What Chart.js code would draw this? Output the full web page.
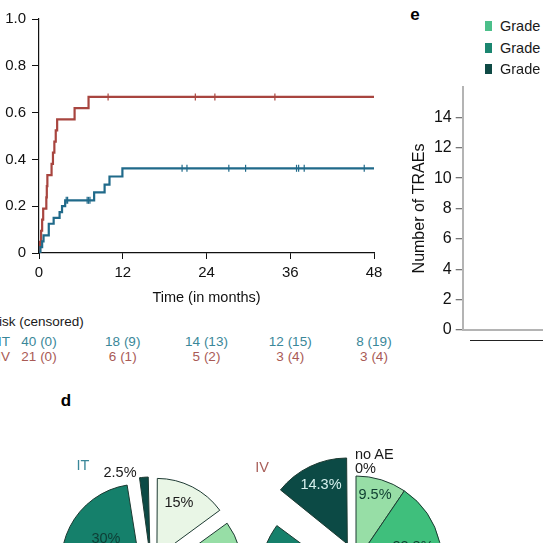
<!DOCTYPE html>
<html>
<head>
<meta charset="utf-8">
<script src="https://cdn.jsdelivr.net/npm/chart.js@4.4.0/dist/chart.umd.min.js"></script>
<style>
html, body { margin: 0; padding: 0; background: #fff; }
body { width: 543px; height: 543px; overflow: hidden; position: relative;
       font-family: "Liberation Sans", Arial, sans-serif; color: #1a1a1a; }
canvas { position: absolute; }
.t { position: absolute; white-space: nowrap; line-height: 1; }
.c { transform: translate(-50%, -50%); }
.m { transform: translateY(-50%); }
.r { transform: translate(-100%, -50%); }
.b { font-weight: bold; font-size: 17px; color: #000; }
.p { font-size: 14.5px; }
</style>
</head>
<body>
<canvas id="km" width="392" height="310" style="left:0;top:0"></canvas>
<canvas id="trae" width="150" height="290" style="left:404px;top:70px"></canvas>
<canvas id="pieIT" width="240" height="240" style="left:31px;top:448px"></canvas>
<canvas id="pieIV" width="260" height="260" style="left:226px;top:432px"></canvas>

<div class="t m" style="left:-22px;top:322px;font-size:13.5px">At risk (censored)</div>
<div class="t r" style="left:10px;top:342px;font-size:13.5px;color:#3a8799">IT</div>
<div class="t r" style="left:10px;top:357px;font-size:13.5px;color:#a95a55">IV</div>
<div id="riskRows"></div>

<div class="t c b" style="left:66px;top:400px">d</div>
<div class="t c b" style="left:415px;top:14px">e</div>

<div id="legend"></div>
<div style="position:absolute;left:470px;top:340px;width:80px;height:1.3px;background:#222"></div>

<div class="t c p" style="left:83px;top:465px;color:#3a8799">IT</div>
<div class="t c p" style="left:120px;top:472px">2.5%</div>
<div class="t c p" style="left:179px;top:502px">15%</div>
<div class="t c p" style="left:106px;top:538px;color:#0e3d35">30%</div>

<div class="t c p" style="left:262px;top:467px;color:#a9605b">IV</div>
<div class="t m p" style="left:355px;top:454px">no AE</div>
<div class="t m p" style="left:355px;top:468px">0%</div>
<div class="t c p" style="left:321px;top:484px;color:#d6f1ee">14.3%</div>
<div class="t c p" style="left:375px;top:494px;color:#0e3d30">9.5%</div>
<div class="t c p" style="left:413px;top:546px;color:#0e3d30">23.8%</div>

<script>
// cumulative incidence (step function), time in months
var itTime = [0, 0.2, 0.45, 0.65, 1.4, 2.1, 2.95, 3.3, 3.75, 7.9, 9.4, 10.1, 11.95, 48];
var itCum  = [0, 0.025, 0.05, 0.075, 0.125, 0.15, 0.175, 0.2, 0.225, 0.259, 0.292, 0.327, 0.362, 0.362];
var ivTime = [0, 0.15, 0.3, 0.45, 0.6, 1.05, 1.12, 1.2, 1.8, 2.0, 2.2, 2.4, 2.6, 5.1, 7.1, 48];
var ivCum  = [0, 0.048, 0.095, 0.143, 0.19, 0.238, 0.286, 0.333, 0.381, 0.429, 0.476, 0.524, 0.571, 0.619, 0.667, 0.667];
var itCensor = [3.9, 4.1, 6.9, 7.1, 7.3, 20.5, 21.2, 27.2, 29.6, 36.9, 37.2, 38.0, 46.6];
var ivCensor = [9.9, 22.4, 25.2, 33.8];

// number at risk table
var riskTimes = [0, 12, 24, 36, 48];
var itAtRisk = [40, 18, 14, 12, 8];
var itCensored = [0, 9, 13, 15, 19];
var ivAtRisk = [21, 6, 5, 3, 3];
var ivCensored = [0, 1, 2, 4, 4];

// pies (d)
var grades = ['no AE', 'Grade 1', 'Grade 2', 'Grade 3', 'Grade 4'];
var itPct = [15, 22.5, 30, 30, 2.5];
var ivPct = [0, 9.5, 23.8, 52.4, 14.3];
var gradeColors = ['#e9f6e6', '#97dea6', '#3fbf7c', '#15806b', '#0c4a45'];

// TRAE panel (e)
var traeGrades = ['Grade 2', 'Grade 3', 'Grade 4'];
var traeColors = ['#4cbf8a', '#1b8670', '#0f4a45'];

var FONT = '"Liberation Sans", Arial, sans-serif';
var itCol = '#206a8a';
var ivCol = '#a8453f';

function levelAt(ts, cs, t) {
  var v = 0;
  for (var i = 0; i < ts.length; i++) { if (ts[i] <= t) v = cs[i]; }
  return v;
}
function pts(ts, cs) { return ts.map(function (t, i) { return {x: t, y: cs[i]}; }); }
function marks(cens, ts, cs) { return cens.map(function (t) { return {x: t, y: levelAt(ts, cs, t)}; }); }

// KM chart
var km = new Chart(document.getElementById('km'), {
  type: 'line',
  data: {
    datasets: [
      {data: pts(itTime, itCum), borderColor: itCol, borderWidth: 2.2, stepped: 'before', pointRadius: 0, fill: false},
      {data: pts(ivTime, ivCum), borderColor: ivCol, borderWidth: 2.2, stepped: 'before', pointRadius: 0, fill: false},
      {data: marks(itCensor, itTime, itCum), showLine: false, pointStyle: 'line', rotation: 90, pointRadius: 3.5,
       borderColor: itCol, backgroundColor: itCol, pointBorderWidth: 1.2},
      {data: marks(ivCensor, ivTime, ivCum), showLine: false, pointStyle: 'line', rotation: 90, pointRadius: 3.5,
       borderColor: ivCol, backgroundColor: ivCol, pointBorderWidth: 1.2}
    ]
  },
  options: {
    responsive: false, animation: false, events: [],
    layout: {padding: {left: 0, right: 18, top: 19, bottom: 0}},
    plugins: {legend: {display: false}, tooltip: {enabled: false}},
    scales: {
      x: {
        type: 'linear', min: 0, max: 48,
        ticks: {stepSize: 12, font: {size: 15, family: FONT}, color: '#111', padding: 5, maxRotation: 0},
        grid: {drawOnChartArea: false, tickLength: 6, color: '#111'},
        border: {color: '#111', width: 1.2},
        title: {display: true, text: 'Time (in months)', font: {size: 14.5, family: FONT}, color: '#111', padding: {top: 0, bottom: 3}},
        afterFit: function (s) { s.height = 57; }
      },
      y: {
        min: 0, max: 1,
        ticks: {stepSize: 0.2, font: {size: 15, family: FONT}, color: '#111', padding: 6,
                callback: function (v) { return v === 0 ? '0' : v.toFixed(1); }},
        grid: {drawOnChartArea: false, tickLength: 7, color: '#111'},
        border: {color: '#111', width: 1.2},
        afterFit: function (s) { s.width = 39; }
      }
    }
  }
});

// at-risk rows, placed on the KM time axis
var rows = document.getElementById('riskRows');
riskTimes.forEach(function (t, i) {
  var x = km.scales.x.getPixelForValue(t);
  [[itAtRisk, itCensored, 342, '#3a8799'], [ivAtRisk, ivCensored, 357, '#a95a55']].forEach(function (r) {
    var d = document.createElement('div');
    d.className = 't c';
    d.style.cssText = 'left:' + x + 'px;top:' + r[2] + 'px;font-size:13.5px;color:' + r[3];
    d.textContent = r[0][i] + ' (' + r[1][i] + ')';
    rows.appendChild(d);
  });
});

// TRAE axis
new Chart(document.getElementById('trae'), {
  type: 'bar',
  data: {labels: [], datasets: []},
  options: {
    responsive: false, animation: false, events: [],
    layout: {padding: {top: 17, left: 0, right: 0, bottom: 0}},
    plugins: {legend: {display: false}, tooltip: {enabled: false}},
    scales: {
      x: {
        grid: {display: false}, ticks: {display: false},
        border: {color: '#b4b4b4', width: 2},
        afterFit: function (s) { s.height = 30; }
      },
      y: {
        min: 0, max: 16,
        ticks: {stepSize: 2, font: {size: 16, family: FONT}, color: '#111', padding: 4,
                callback: function (v) { return v > 14 ? '' : v; }},
        grid: {drawOnChartArea: false, tickLength: 7, lineWidth: 1.3,
               color: function (c) { return c.tick && c.tick.value > 14 ? 'rgba(0,0,0,0)' : '#777'; }},
        border: {color: '#b4b4b4', width: 2},
        title: {display: true, text: 'Number of TRAEs', font: {size: 16, family: FONT}, color: '#111', padding: {top: 6, bottom: 0}},
        afterFit: function (s) { s.width = 58.7; }
      }
    }
  }
});

// legend for e
var lg = document.getElementById('legend');
traeGrades.forEach(function (g, i) {
  var y = 25.7 + i * 21.8;
  var sw = document.createElement('div');
  sw.style.cssText = 'position:absolute;left:485px;top:' + (y - 5) + 'px;width:6.5px;height:10px;background:' + traeColors[i];
  lg.appendChild(sw);
  var tx = document.createElement('div');
  tx.className = 't m';
  tx.style.cssText = 'left:500px;top:' + y + 'px;font-size:14.5px';
  tx.textContent = g;
  lg.appendChild(tx);
});

// keep exploded slices at their own radius (Chart.js grows small offset arcs)
var flatOffset = {
  id: 'flatOffset',
  afterUpdate: function (chart) {
    chart.getDatasetMeta(0).data.forEach(function (arc) {
      var o = (arc.options.offset || 0) / 4;
      var fix = 1 - Math.sin(Math.min(Math.PI, arc.circumference));
      arc.outerRadius -= o * fix;
    });
  }
};

function pie(id, values, radius, shifts) {
  return new Chart(document.getElementById(id), {
    type: 'pie',
    data: {labels: grades, datasets: [{
      data: values, backgroundColor: gradeColors, borderColor: '#1d3a32', borderWidth: 1,
      radius: radius, offset: shifts.map(function (s) { return s * 4; })
    }]},
    options: {responsive: false, animation: false, events: [],
              plugins: {legend: {display: false}, tooltip: {enabled: false}}},
    plugins: [flatOffset]
  });
}
pie('pieIT', itPct, 78, [13, 13, 13, 13, 13]);
pie('pieIV', ivPct, 86, [0, 0, 0, 18, 20]);
</script>
</body>
</html>
